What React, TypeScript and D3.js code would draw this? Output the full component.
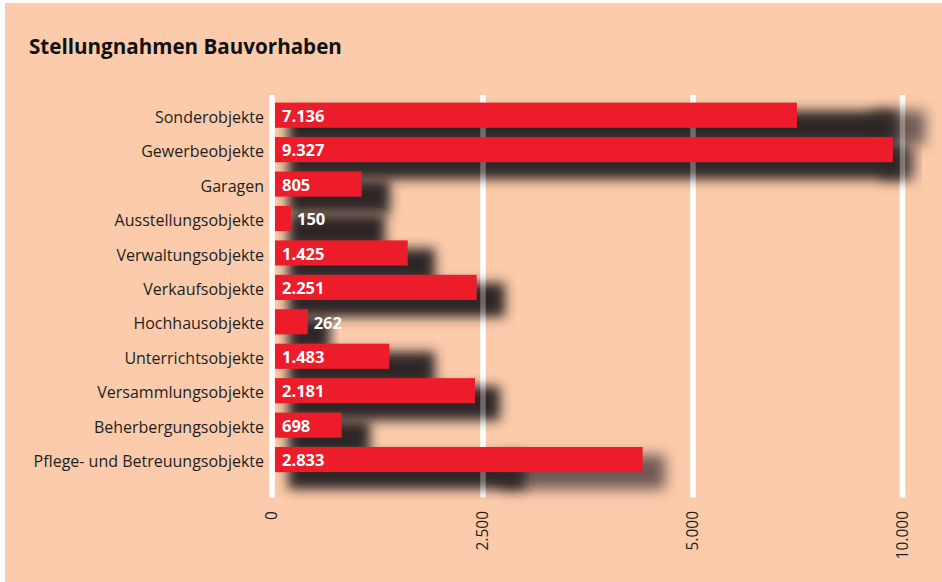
import React from "react";
import * as d3 from "d3";

const categories = [
  "Sonderobjekte",
  "Gewerbeobjekte",
  "Garagen",
  "Ausstellungsobjekte",
  "Verwaltungsobjekte",
  "Verkaufsobjekte",
  "Hochhausobjekte",
  "Unterrichtsobjekte",
  "Versammlungsobjekte",
  "Beherbergungsobjekte",
  "Pflege- und Betreuungsobjekte",
];
// numbers printed on the bars
const labelValues = [7136, 9327, 805, 150, 1425, 2251, 262, 1483, 2181, 698, 2833];
// bar lengths as drawn against the axis
const barValues = [7480, 9770, 1063, 225, 1608, 2425, 423, 1390, 2405, 826, 4401];
// blurred shadow extents (axis units)
const shadowCore = [9869, 10060, 1398, 1339, 1931, 2762, 687, 1931, 2702, 1161, 3000];
const shadowTail = [10537, 10298, 1398, 1339, 1931, 2762, 687, 1931, 2702, 1161, 4667];
const tickValues = [0, 2500, 5000, 10000];

const W = 942;
const H = 582;
const FONT = "'Open Sans', 'Liberation Sans', Arial, sans-serif";
const BG = "#FBCBAB";
const RED = "#ED1C2B";
const INK = "#231F20";

const de = d3.formatLocale({ decimal: ",", thousands: ".", grouping: [3], currency: ["", "€"] });
const fmt = de.format(",");

export default function App() {
  const x = d3.scaleLinear().domain(tickValues).range([272, 483, 693, 902.5]);
  const y = d3
    .scaleBand<string>()
    .domain(categories)
    .range([98, 476.8])
    .paddingInner(0.27)
    .paddingOuter(0.135);
  const bw = y.bandwidth();
  const x0 = x(0);
  const gridTop = 95;
  const gridBottom = 497.5;

  return (
    <svg
      width={W}
      height={H}
      style={{ position: "absolute", left: 0, top: 0, display: "block" }}
      fontFamily={FONT}
    >
      <defs>
        <filter id="blurA" x="-20%" y="-100%" width="140%" height="300%">
          <feGaussianBlur stdDeviation="6" />
        </filter>
        <filter id="blurB" x="-20%" y="-100%" width="140%" height="300%">
          <feGaussianBlur stdDeviation="7" />
        </filter>
      </defs>
      <rect x={0} y={0} width={W} height={H} fill="#ffffff" />
      <rect x={5} y={3} width={W - 5} height={H - 3} fill={BG} />

      <text x={29} y={54} fontSize={20.6} fontWeight={700} fill="#111">
        Stellungnahmen Bauvorhaben
      </text>

      {/* grid */}
      {tickValues.map((t) => (
        <line
          key={"g" + t}
          x1={x(t)}
          x2={x(t)}
          y1={gridTop}
          y2={gridBottom}
          stroke="#fff"
          strokeWidth={5.5}
        />
      ))}

      {/* shadows */}
      {categories.map((c, i) => {
        const top = (y(c) as number) + 8;
        const h = bw + 9;
        return (
          <g key={"s" + c}>
            {shadowTail[i] > shadowCore[i] && (
              <rect
                x={x(shadowCore[i]) - 25}
                y={top}
                width={x(shadowTail[i]) - x(shadowCore[i]) + 25}
                height={h}
                fill="#6f5a54"
                filter="url(#blurB)"
              />
            )}
            <rect
              x={x0 + 16}
              y={top}
              width={x(shadowCore[i]) - x0 - 16}
              height={h}
              fill="#2e2626"
              filter="url(#blurA)"
            />
          </g>
        );
      })}

      {/* grid seen through shadows */}
      {tickValues.map((t) => (
        <line
          key={"g2" + t}
          x1={x(t)}
          x2={x(t)}
          y1={gridTop}
          y2={gridBottom}
          stroke="#fff"
          strokeOpacity={0.3}
          strokeWidth={5.5}
        />
      ))}

      {/* bars */}
      {categories.map((c, i) => (
        <rect
          key={"b" + c}
          x={x0 + 3}
          y={y(c)}
          width={x(barValues[i]) - x0 - 3}
          height={bw}
          fill={RED}
        />
      ))}

      {/* category labels */}
      {categories.map((c) => (
        <text
          key={"c" + c}
          x={264}
          y={(y(c) as number) + bw / 2 + 2}
          dy="0.35em"
          textAnchor="end"
          fontSize={16}
          fill={INK}
        >
          {c}
        </text>
      ))}

      {/* value labels */}
      {categories.map((c, i) => {
        const end = x(barValues[i]);
        const inside = end - x0 > 50;
        return (
          <text
            key={"v" + c}
            x={inside ? x0 + 10 : end + 6}
            y={(y(c) as number) + bw / 2 + 1}
            dy="0.35em"
            fontSize={16.5}
            fontWeight={700}
            fill="#fff"
          >
            {fmt(labelValues[i])}
          </text>
        );
      })}

      {/* axis tick labels */}
      {tickValues.map((t) => (
        <text
          key={"t" + t}
          transform={`translate(${x(t)},511) rotate(-90)`}
          dy="0.35em"
          textAnchor="end"
          fontSize={15.5}
          fill={INK}
        >
          {fmt(t)}
        </text>
      ))}
    </svg>
  );
}
